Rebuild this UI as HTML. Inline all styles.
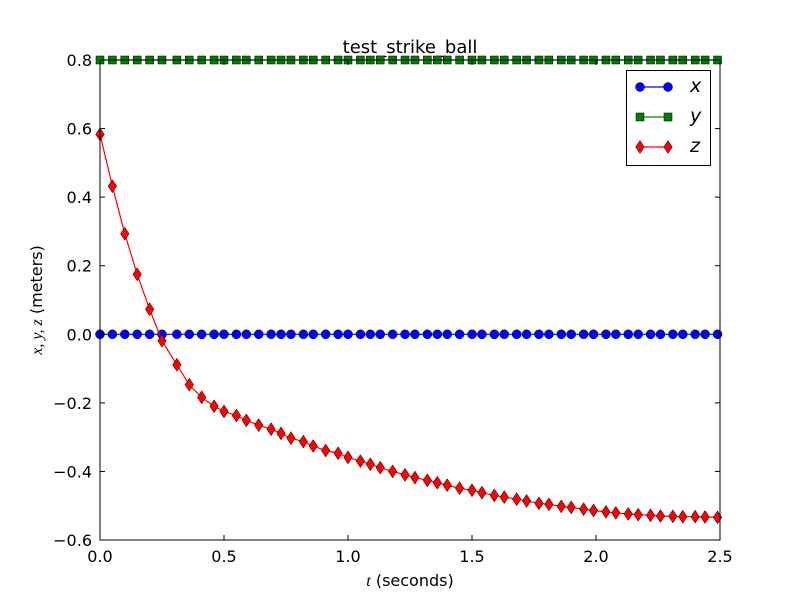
<!DOCTYPE html>
<html><head><meta charset="utf-8"><style>
body{margin:0;background:#fff;}
svg text{font-family:"DejaVu Sans","Liberation Sans",sans-serif;}
</style></head><body>
<svg id="chart" width="800" height="600" xmlns="http://www.w3.org/2000/svg">
<rect width="800" height="600" fill="#fff"/>
<text x="410" y="53" font-size="18" text-anchor="middle">test_strike_ball</text>
<g id="plot"></g>
<g id="axes"></g>
<text x="410" y="586" font-size="16" text-anchor="middle"><tspan font-family="Liberation Serif" font-style="italic">t</tspan> (seconds)</text>
<text transform="translate(42,300) rotate(-90)" font-size="16" text-anchor="middle"><tspan font-family="Liberation Serif" font-style="italic">x, y, z</tspan> (meters)</text>
<g>
<rect x="626.5" y="70.5" width="84" height="95" fill="#fff" stroke="#000" stroke-width="1"/>
<g id="legend-items"></g>
</g>
</svg>
<script>
const tValues=[0,0.05,0.10,0.15,0.20,0.25,0.31,0.36,0.41,0.46,0.50,0.55,0.59,0.64,0.69,0.73,0.77,0.82,0.86,0.91,0.96,1.00,1.05,1.09,1.13,1.18,1.23,1.27,1.32,1.36,1.40,1.45,1.50,1.54,1.59,1.63,1.68,1.72,1.77,1.81,1.86,1.90,1.95,1.99,2.04,2.08,2.13,2.17,2.22,2.26,2.31,2.35,2.40,2.44,2.49];
const zValues=[0.583,0.432,0.293,0.175,0.073,-0.019,-0.089,-0.147,-0.184,-0.210,-0.225,-0.237,-0.251,-0.265,-0.277,-0.289,-0.303,-0.313,-0.326,-0.339,-0.347,-0.359,-0.370,-0.379,-0.389,-0.400,-0.410,-0.418,-0.426,-0.433,-0.440,-0.449,-0.455,-0.462,-0.470,-0.475,-0.481,-0.486,-0.493,-0.496,-0.502,-0.505,-0.510,-0.514,-0.518,-0.521,-0.524,-0.526,-0.528,-0.530,-0.531,-0.532,-0.532,-0.533,-0.534];
const xValues=tValues.map(()=>0);
const yValues=tValues.map(()=>0.8);
const xTicks=[0,0.5,1.0,1.5,2.0,2.5];
const xTickLabels=["0.0","0.5","1.0","1.5","2.0","2.5"];
const yTicks=[0.8,0.6,0.4,0.2,0,-0.2,-0.4,-0.6];
const yTickLabels=["0.8","0.6","0.4","0.2","0.0","\u22120.2","\u22120.4","\u22120.6"];

const NS="http://www.w3.org/2000/svg";
const L=100,R=720,T=60,B=540;
const sx=v=>L+(v-0)/(2.5)*(R-L);
const sy=v=>T+(0.8-v)/(1.4)*(B-T);
function mk(tag,attrs,parent){const e=document.createElementNS(NS,tag);for(const k in attrs)e.setAttribute(k,attrs[k]);parent.appendChild(e);return e;}
const plot=document.getElementById('plot');
const axes=document.getElementById('axes');
const clip=mk('clipPath',{id:'cp'},plot);mk('rect',{x:L-8,y:T-8,width:R-L+16,height:B-T+16},clip);

function drawSeries(vals,color,shape,name){
  const g=mk('g',{'clip-path':'url(#cp)'},plot);
  
  
  const pts=tValues.map((t,i)=>sx(t).toFixed(2)+','+sy(vals[i]).toFixed(2)).join(' ');
  const pl=mk('polyline',{points:pts,fill:'none',stroke:color,'stroke-width':1.2},g);
  
  
  tValues.forEach((t,i)=>{
    const m=marker(shape,sx(t),sy(vals[i]),color,g);
    
    
  });
}
function marker(shape,x,y,color,g){
  if(shape==='o')return mk('circle',{cx:x,cy:y,r:4.5,fill:color,stroke:'#000','stroke-width':0.5},g);
  if(shape==='s')return mk('rect',{x:x-4,y:y-4,width:8,height:8,fill:color,stroke:'#000','stroke-width':0.5},g);
  return mk('polygon',{points:`${x},${y-6.5} ${x+4.3},${y} ${x},${y+6.5} ${x-4.3},${y}`,fill:color,stroke:'#000','stroke-width':0.5},g);
}
drawSeries(xValues,'#0000ff','o','x');
drawSeries(yValues,'#008000','s','y');
drawSeries(zValues,'#ff0000','d','z');

mk('rect',{x:L,y:T,width:R-L,height:B-T,fill:'none',stroke:'#000','stroke-width':1},axes);
xTicks.forEach((v,i)=>{
  const x=sx(v);
  mk('line',{x1:x,y1:B,x2:x,y2:B-5,stroke:'#000'},axes);
  mk('line',{x1:x,y1:T,x2:x,y2:T+5,stroke:'#000'},axes);
  const t=mk('text',{x:x,y:B+22,'font-size':16,'text-anchor':'middle'},axes);t.textContent=xTickLabels[i];
  
  
});
yTicks.forEach((v,i)=>{
  const y=sy(v);
  mk('line',{x1:L,y1:y,x2:L+5,y2:y,stroke:'#000'},axes);
  mk('line',{x1:R,y1:y,x2:R-5,y2:y,stroke:'#000'},axes);
  const t=mk('text',{x:L-8,y:y+6,'font-size':16,'text-anchor':'end'},axes);t.textContent=yTickLabels[i];
  
  
});
const leg=document.getElementById('legend-items');
[['x','#0000ff','o',87],['y','#008000','s',117],['z','#ff0000','d',147]].forEach(([n,c,s,y])=>{
  const g=mk('g',{},leg);
  
  
  mk('line',{x1:640,y1:y,x2:668,y2:y,stroke:c,'stroke-width':1.2},g);
  marker(s,640,y,c,g);marker(s,668,y,c,g);
  const t=mk('text',{x:690,y:y+5,'font-size':19,'font-style':'italic','font-family':'Liberation Serif','text-anchor':'start'},g);
  t.textContent=n;
});
</script>
</body></html>
